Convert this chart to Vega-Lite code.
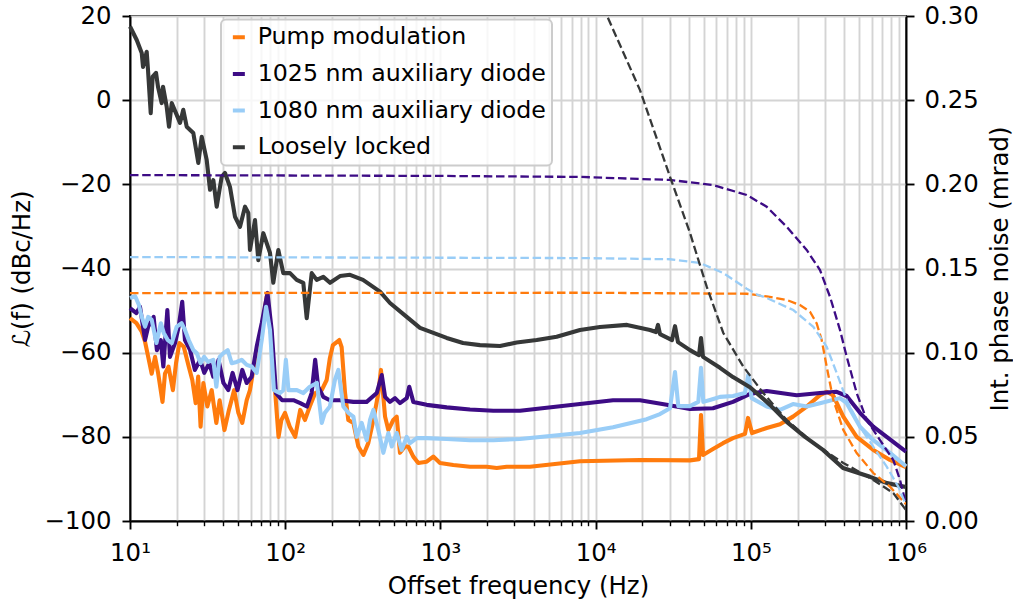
{
 "$schema": "https://vega.github.io/schema/vega-lite/v6.json",
 "width": 776,
 "height": 505,
 "autosize": {"type": "none"},
 "padding": {"left": 130, "top": 16, "right": 107, "bottom": 84},
 "background": "white",
 "datasets": {
  "solid": [
   {"series":"Pump modulation","f":10,"v":-51.8},{"series":"Pump modulation","f":11.0,"v":-53.0},{"series":"Pump modulation","f":11.9,"v":-55.0},{"series":"Pump modulation","f":12.5,"v":-57.4},{"series":"Pump modulation","f":13.1,"v":-61.0},{"series":"Pump modulation","f":13.8,"v":-65.0},{"series":"Pump modulation","f":14.5,"v":-61.0},{"series":"Pump modulation","f":15.2,"v":-65.0},{"series":"Pump modulation","f":16.2,"v":-71.7},{"series":"Pump modulation","f":16.8,"v":-65.0},{"series":"Pump modulation","f":17.7,"v":-63.3},{"series":"Pump modulation","f":18.9,"v":-68.9},{"series":"Pump modulation","f":19.8,"v":-62.5},{"series":"Pump modulation","f":20.8,"v":-57.7},{"series":"Pump modulation","f":22.2,"v":-58.6},{"series":"Pump modulation","f":23.9,"v":-63.3},{"series":"Pump modulation","f":25.2,"v":-66.5},{"series":"Pump modulation","f":26.5,"v":-72.0},{"series":"Pump modulation","f":27.5,"v":-65.7},{"series":"Pump modulation","f":28.5,"v":-77.6},{"series":"Pump modulation","f":29.7,"v":-67.2},{"series":"Pump modulation","f":31.5,"v":-72.8},{"series":"Pump modulation","f":33.6,"v":-68.9},{"series":"Pump modulation","f":36.0,"v":-76.7},{"series":"Pump modulation","f":37.8,"v":-71.3},{"series":"Pump modulation","f":40.6,"v":-78.4},{"series":"Pump modulation","f":43.4,"v":-73.6},{"series":"Pump modulation","f":46.9,"v":-68.9},{"series":"Pump modulation","f":49.9,"v":-74.3},{"series":"Pump modulation","f":52.9,"v":-76.7},{"series":"Pump modulation","f":56.5,"v":-71.3},{"series":"Pump modulation","f":59.3,"v":-68.9},{"series":"Pump modulation","f":62.3,"v":-64.1},{"series":"Pump modulation","f":66.4,"v":-61.0},{"series":"Pump modulation","f":71.3,"v":-53.8},{"series":"Pump modulation","f":76.0,"v":-46.6},{"series":"Pump modulation","f":81.8,"v":-57.0},{"series":"Pump modulation","f":86.0,"v":-68.9},{"series":"Pump modulation","f":90.6,"v":-80.0},{"series":"Pump modulation","f":94.5,"v":-76.0},{"series":"Pump modulation","f":99.7,"v":-74.3},{"series":"Pump modulation","f":107,"v":-77.6},{"series":"Pump modulation","f":116,"v":-80.0},{"series":"Pump modulation","f":125,"v":-73.6},{"series":"Pump modulation","f":134,"v":-76.0},{"series":"Pump modulation","f":144,"v":-72.8},{"series":"Pump modulation","f":156,"v":-69.6},{"series":"Pump modulation","f":172,"v":-68.9},{"series":"Pump modulation","f":185,"v":-66.5},{"series":"Pump modulation","f":194,"v":-61.3},{"series":"Pump modulation","f":203,"v":-58.2},{"series":"Pump modulation","f":223,"v":-57.0},{"series":"Pump modulation","f":231,"v":-58.7},{"series":"Pump modulation","f":243,"v":-69.6},{"series":"Pump modulation","f":255,"v":-76.0},{"series":"Pump modulation","f":275,"v":-76.7},{"series":"Pump modulation","f":296,"v":-82.3},{"series":"Pump modulation","f":319,"v":-84.3},{"series":"Pump modulation","f":343,"v":-81.5},{"series":"Pump modulation","f":370,"v":-76.0},{"series":"Pump modulation","f":398,"v":-69.6},{"series":"Pump modulation","f":414,"v":-64.1},{"series":"Pump modulation","f":440,"v":-75.2},{"series":"Pump modulation","f":462,"v":-78.4},{"series":"Pump modulation","f":497,"v":-76.0},{"series":"Pump modulation","f":523,"v":-75.2},{"series":"Pump modulation","f":549,"v":-83.8},{"series":"Pump modulation","f":591,"v":-82.3},{"series":"Pump modulation","f":621,"v":-82.3},{"series":"Pump modulation","f":669,"v":-84.7},{"series":"Pump modulation","f":720,"v":-86.2},{"series":"Pump modulation","f":816,"v":-85.9},{"series":"Pump modulation","f":900,"v":-84.7},{"series":"Pump modulation","f":994,"v":-86.2},{"series":"Pump modulation","f":1211,"v":-86.7},{"series":"Pump modulation","f":1551,"v":-87.1},{"series":"Pump modulation","f":1988,"v":-87.1},{"series":"Pump modulation","f":2306,"v":-87.4},{"series":"Pump modulation","f":2674,"v":-87.1},{"series":"Pump modulation","f":3779,"v":-87.1},{"series":"Pump modulation","f":7933,"v":-85.8},{"series":"Pump modulation","f":19322,"v":-85.5},{"series":"Pump modulation","f":40572,"v":-85.6},{"series":"Pump modulation","f":46370,"v":-85.3},{"series":"Pump modulation","f":47770,"v":-74.8},{"series":"Pump modulation","f":49204,"v":-84.3},{"series":"Pump modulation","f":57078,"v":-82.9},{"series":"Pump modulation","f":66200,"v":-81.5},{"series":"Pump modulation","f":76790,"v":-80.3},{"series":"Pump modulation","f":91750,"v":-79.3},{"series":"Pump modulation","f":95940,"v":-75.5},{"series":"Pump modulation","f":101800,"v":-79.1},{"series":"Pump modulation","f":126590,"v":-77.9},{"series":"Pump modulation","f":154210,"v":-77.0},{"series":"Pump modulation","f":187010,"v":-75.2},{"series":"Pump modulation","f":229170,"v":-72.8},{"series":"Pump modulation","f":279160,"v":-70.1},{"series":"Pump modulation","f":308350,"v":-69.3},{"series":"Pump modulation","f":338550,"v":-70.1},{"series":"Pump modulation","f":394490,"v":-75.2},{"series":"Pump modulation","f":481210,"v":-80.0},{"series":"Pump modulation","f":615620,"v":-83.1},{"series":"Pump modulation","f":788630,"v":-85.5},{"series":"Pump modulation","f":1000000,"v":-87.2},
   {"series":"1025 nm auxiliary diode","f":10,"v":-49.4},{"series":"1025 nm auxiliary diode","f":11.0,"v":-50.6},{"series":"1025 nm auxiliary diode","f":11.6,"v":-49.1},{"series":"1025 nm auxiliary diode","f":12.5,"v":-57.0},{"series":"1025 nm auxiliary diode","f":13.1,"v":-53.8},{"series":"1025 nm auxiliary diode","f":14.2,"v":-51.5},{"series":"1025 nm auxiliary diode","f":14.9,"v":-59.4},{"series":"1025 nm auxiliary diode","f":15.8,"v":-57.0},{"series":"1025 nm auxiliary diode","f":16.4,"v":-63.3},{"series":"1025 nm auxiliary diode","f":17.4,"v":-49.9},{"series":"1025 nm auxiliary diode","f":18.1,"v":-61.0},{"series":"1025 nm auxiliary diode","f":19.5,"v":-57.7},{"series":"1025 nm auxiliary diode","f":20.6,"v":-53.8},{"series":"1025 nm auxiliary diode","f":21.7,"v":-47.9},{"series":"1025 nm auxiliary diode","f":22.6,"v":-57.0},{"series":"1025 nm auxiliary diode","f":24.4,"v":-59.4},{"series":"1025 nm auxiliary diode","f":26.2,"v":-64.1},{"series":"1025 nm auxiliary diode","f":28.3,"v":-61.7},{"series":"1025 nm auxiliary diode","f":30.1,"v":-64.8},{"series":"1025 nm auxiliary diode","f":32.4,"v":-62.5},{"series":"1025 nm auxiliary diode","f":34.4,"v":-65.7},{"series":"1025 nm auxiliary diode","f":37.2,"v":-61.7},{"series":"1025 nm auxiliary diode","f":40.0,"v":-67.2},{"series":"1025 nm auxiliary diode","f":43.0,"v":-68.9},{"series":"1025 nm auxiliary diode","f":45.8,"v":-64.8},{"series":"1025 nm auxiliary diode","f":49.3,"v":-68.9},{"series":"1025 nm auxiliary diode","f":52.9,"v":-64.1},{"series":"1025 nm auxiliary diode","f":56.5,"v":-67.2},{"series":"1025 nm auxiliary diode","f":60.8,"v":-65.7},{"series":"1025 nm auxiliary diode","f":65.5,"v":-58.6},{"series":"1025 nm auxiliary diode","f":70.6,"v":-53.0},{"series":"1025 nm auxiliary diode","f":76.9,"v":-45.8},{"series":"1025 nm auxiliary diode","f":81.8,"v":-54.6},{"series":"1025 nm auxiliary diode","f":87.2,"v":-69.6},{"series":"1025 nm auxiliary diode","f":95.5,"v":-71.3},{"series":"1025 nm auxiliary diode","f":102,"v":-71.3},{"series":"1025 nm auxiliary diode","f":113,"v":-71.3},{"series":"1025 nm auxiliary diode","f":125,"v":-72.0},{"series":"1025 nm auxiliary diode","f":138,"v":-72.8},{"series":"1025 nm auxiliary diode","f":148,"v":-69.6},{"series":"1025 nm auxiliary diode","f":156,"v":-61.7},{"series":"1025 nm auxiliary diode","f":163,"v":-68.1},{"series":"1025 nm auxiliary diode","f":176,"v":-70.5},{"series":"1025 nm auxiliary diode","f":194,"v":-71.3},{"series":"1025 nm auxiliary diode","f":225,"v":-71.3},{"series":"1025 nm auxiliary diode","f":275,"v":-71.7},{"series":"1025 nm auxiliary diode","f":335,"v":-71.7},{"series":"1025 nm auxiliary diode","f":389,"v":-69.6},{"series":"1025 nm auxiliary diode","f":419,"v":-65.3},{"series":"1025 nm auxiliary diode","f":440,"v":-70.5},{"series":"1025 nm auxiliary diode","f":473,"v":-71.7},{"series":"1025 nm auxiliary diode","f":510,"v":-70.8},{"series":"1025 nm auxiliary diode","f":549,"v":-72.0},{"series":"1025 nm auxiliary diode","f":607,"v":-70.8},{"series":"1025 nm auxiliary diode","f":630,"v":-68.1},{"series":"1025 nm auxiliary diode","f":669,"v":-71.7},{"series":"1025 nm auxiliary diode","f":816,"v":-72.4},{"series":"1025 nm auxiliary diode","f":1098,"v":-73.0},{"series":"1025 nm auxiliary diode","f":1551,"v":-73.5},{"series":"1025 nm auxiliary diode","f":2192,"v":-73.8},{"series":"1025 nm auxiliary diode","f":3257,"v":-73.8},{"series":"1025 nm auxiliary diode","f":7933,"v":-72.2},{"series":"1025 nm auxiliary diode","f":12945,"v":-71.3},{"series":"1025 nm auxiliary diode","f":19322,"v":-71.3},{"series":"1025 nm auxiliary diode","f":28717,"v":-72.4},{"series":"1025 nm auxiliary diode","f":40572,"v":-73.4},{"series":"1025 nm auxiliary diode","f":57078,"v":-73.2},{"series":"1025 nm auxiliary diode","f":76790,"v":-71.7},{"series":"1025 nm auxiliary diode","f":98815,"v":-69.8},{"series":"1025 nm auxiliary diode","f":126590,"v":-69.1},{"series":"1025 nm auxiliary diode","f":197570,"v":-70.1},{"series":"1025 nm auxiliary diode","f":279160,"v":-69.6},{"series":"1025 nm auxiliary diode","f":357670,"v":-69.3},{"series":"1025 nm auxiliary diode","f":414860,"v":-70.3},{"series":"1025 nm auxiliary diode","f":505340,"v":-74.3},{"series":"1025 nm auxiliary diode","f":615620,"v":-77.6},{"series":"1025 nm auxiliary diode","f":750990,"v":-80.0},{"series":"1025 nm auxiliary diode","f":1000000,"v":-83.5},
   {"series":"1080 nm auxiliary diode","f":10,"v":-47.0},{"series":"1080 nm auxiliary diode","f":10.8,"v":-46.6},{"series":"1080 nm auxiliary diode","f":11.4,"v":-48.6},{"series":"1080 nm auxiliary diode","f":11.9,"v":-51.5},{"series":"1080 nm auxiliary diode","f":12.5,"v":-53.8},{"series":"1080 nm auxiliary diode","f":13.1,"v":-51.5},{"series":"1080 nm auxiliary diode","f":13.8,"v":-52.2},{"series":"1080 nm auxiliary diode","f":14.8,"v":-57.7},{"series":"1080 nm auxiliary diode","f":15.8,"v":-53.0},{"series":"1080 nm auxiliary diode","f":16.5,"v":-55.3},{"series":"1080 nm auxiliary diode","f":17.5,"v":-57.0},{"series":"1080 nm auxiliary diode","f":18.6,"v":-57.7},{"series":"1080 nm auxiliary diode","f":20.0,"v":-53.8},{"series":"1080 nm auxiliary diode","f":21.5,"v":-53.0},{"series":"1080 nm auxiliary diode","f":22.6,"v":-54.6},{"series":"1080 nm auxiliary diode","f":23.9,"v":-57.0},{"series":"1080 nm auxiliary diode","f":25.6,"v":-59.4},{"series":"1080 nm auxiliary diode","f":26.9,"v":-60.1},{"series":"1080 nm auxiliary diode","f":28.5,"v":-62.5},{"series":"1080 nm auxiliary diode","f":30.0,"v":-61.0},{"series":"1080 nm auxiliary diode","f":31.9,"v":-62.2},{"series":"1080 nm auxiliary diode","f":34.4,"v":-61.7},{"series":"1080 nm auxiliary diode","f":36.0,"v":-68.1},{"series":"1080 nm auxiliary diode","f":37.8,"v":-61.0},{"series":"1080 nm auxiliary diode","f":40.0,"v":-60.1},{"series":"1080 nm auxiliary diode","f":42.6,"v":-59.4},{"series":"1080 nm auxiliary diode","f":45.2,"v":-62.5},{"series":"1080 nm auxiliary diode","f":48.7,"v":-62.2},{"series":"1080 nm auxiliary diode","f":52.4,"v":-61.7},{"series":"1080 nm auxiliary diode","f":56.5,"v":-62.9},{"series":"1080 nm auxiliary diode","f":60.8,"v":-63.3},{"series":"1080 nm auxiliary diode","f":65.5,"v":-64.8},{"series":"1080 nm auxiliary diode","f":70.6,"v":-57.0},{"series":"1080 nm auxiliary diode","f":75.3,"v":-49.1},{"series":"1080 nm auxiliary diode","f":79.8,"v":-54.6},{"series":"1080 nm auxiliary diode","f":84.6,"v":-68.9},{"series":"1080 nm auxiliary diode","f":92.6,"v":-69.6},{"series":"1080 nm auxiliary diode","f":97.2,"v":-68.9},{"series":"1080 nm auxiliary diode","f":101,"v":-61.7},{"series":"1080 nm auxiliary diode","f":105,"v":-68.9},{"series":"1080 nm auxiliary diode","f":119,"v":-68.9},{"series":"1080 nm auxiliary diode","f":131,"v":-69.6},{"series":"1080 nm auxiliary diode","f":144,"v":-68.1},{"series":"1080 nm auxiliary diode","f":160,"v":-67.2},{"series":"1080 nm auxiliary diode","f":172,"v":-76.7},{"series":"1080 nm auxiliary diode","f":180,"v":-74.3},{"series":"1080 nm auxiliary diode","f":194,"v":-72.8},{"series":"1080 nm auxiliary diode","f":209,"v":-66.5},{"series":"1080 nm auxiliary diode","f":220,"v":-64.1},{"series":"1080 nm auxiliary diode","f":237,"v":-72.8},{"series":"1080 nm auxiliary diode","f":255,"v":-74.3},{"series":"1080 nm auxiliary diode","f":275,"v":-75.2},{"series":"1080 nm auxiliary diode","f":289,"v":-80.0},{"series":"1080 nm auxiliary diode","f":311,"v":-76.7},{"series":"1080 nm auxiliary diode","f":335,"v":-80.8},{"series":"1080 nm auxiliary diode","f":352,"v":-76.0},{"series":"1080 nm auxiliary diode","f":370,"v":-73.6},{"series":"1080 nm auxiliary diode","f":398,"v":-78.4},{"series":"1080 nm auxiliary diode","f":429,"v":-83.8},{"series":"1080 nm auxiliary diode","f":462,"v":-79.1},{"series":"1080 nm auxiliary diode","f":486,"v":-82.3},{"series":"1080 nm auxiliary diode","f":523,"v":-79.1},{"series":"1080 nm auxiliary diode","f":563,"v":-83.1},{"series":"1080 nm auxiliary diode","f":607,"v":-80.0},{"series":"1080 nm auxiliary diode","f":637,"v":-81.5},{"series":"1080 nm auxiliary diode","f":704,"v":-80.3},{"series":"1080 nm auxiliary diode","f":816,"v":-80.3},{"series":"1080 nm auxiliary diode","f":1098,"v":-80.5},{"series":"1080 nm auxiliary diode","f":1551,"v":-80.8},{"series":"1080 nm auxiliary diode","f":2192,"v":-80.8},{"series":"1080 nm auxiliary diode","f":3257,"v":-80.5},{"series":"1080 nm auxiliary diode","f":7933,"v":-79.1},{"series":"1080 nm auxiliary diode","f":12945,"v":-77.7},{"series":"1080 nm auxiliary diode","f":21345,"v":-75.8},{"series":"1080 nm auxiliary diode","f":25998,"v":-74.6},{"series":"1080 nm auxiliary diode","f":30156,"v":-73.2},{"series":"1080 nm auxiliary diode","f":32478,"v":-64.6},{"series":"1080 nm auxiliary diode","f":34110,"v":-72.7},{"series":"1080 nm auxiliary diode","f":40572,"v":-72.7},{"series":"1080 nm auxiliary diode","f":45893,"v":-71.7},{"series":"1080 nm auxiliary diode","f":47770,"v":-63.6},{"series":"1080 nm auxiliary diode","f":49427,"v":-71.7},{"series":"1080 nm auxiliary diode","f":57331,"v":-71.0},{"series":"1080 nm auxiliary diode","f":63317,"v":-70.5},{"series":"1080 nm auxiliary diode","f":76790,"v":-70.3},{"series":"1080 nm auxiliary diode","f":91750,"v":-69.6},{"series":"1080 nm auxiliary diode","f":96362,"v":-65.3},{"series":"1080 nm auxiliary diode","f":101340,"v":-70.8},{"series":"1080 nm auxiliary diode","f":126590,"v":-72.8},{"series":"1080 nm auxiliary diode","f":154210,"v":-73.6},{"series":"1080 nm auxiliary diode","f":187010,"v":-72.2},{"series":"1080 nm auxiliary diode","f":229170,"v":-72.8},{"series":"1080 nm auxiliary diode","f":279160,"v":-72.0},{"series":"1080 nm auxiliary diode","f":375610,"v":-70.8},{"series":"1080 nm auxiliary diode","f":414860,"v":-72.0},{"series":"1080 nm auxiliary diode","f":505340,"v":-77.6},{"series":"1080 nm auxiliary diode","f":615620,"v":-80.8},{"series":"1080 nm auxiliary diode","f":788630,"v":-83.8},{"series":"1080 nm auxiliary diode","f":1000000,"v":-87.0},
   {"series":"Loosely locked","f":10,"v":17.5},{"series":"Loosely locked","f":11.05,"v":14.3},{"series":"Loosely locked","f":11.9,"v":11.2},{"series":"Loosely locked","f":12.13,"v":7.9},{"series":"Loosely locked","f":12.81,"v":11.5},{"series":"Loosely locked","f":13.06,"v":7.2},{"series":"Loosely locked","f":13.6,"v":-3.1},{"series":"Loosely locked","f":14.0,"v":5.6},{"series":"Loosely locked","f":14.71,"v":6.5},{"series":"Loosely locked","f":15.15,"v":3.2},{"series":"Loosely locked","f":16.0,"v":-0.7},{"series":"Loosely locked","f":16.32,"v":3.2},{"series":"Loosely locked","f":17.24,"v":-1.6},{"series":"Loosely locked","f":17.84,"v":-6.3},{"series":"Loosely locked","f":18.57,"v":-0.7},{"series":"Loosely locked","f":20.0,"v":-3.5},{"series":"Loosely locked","f":21.0,"v":-5.4},{"series":"Loosely locked","f":22.05,"v":-2.3},{"series":"Loosely locked","f":23.19,"v":-6.3},{"series":"Loosely locked","f":25.58,"v":-7.8},{"series":"Loosely locked","f":27.55,"v":-14.9},{"series":"Loosely locked","f":28.97,"v":-8.7},{"series":"Loosely locked","f":31.2,"v":-14.2},{"series":"Loosely locked","f":32.78,"v":-21.3},{"series":"Loosely locked","f":34.42,"v":-19.0},{"series":"Loosely locked","f":36.2,"v":-25.3},{"series":"Loosely locked","f":38.98,"v":-18.2},{"series":"Loosely locked","f":40.94,"v":-17.3},{"series":"Loosely locked","f":44.07,"v":-20.6},{"series":"Loosely locked","f":47.49,"v":-27.7},{"series":"Loosely locked","f":51.15,"v":-30.1},{"series":"Loosely locked","f":55.08,"v":-25.3},{"series":"Loosely locked","f":57.84,"v":-26.8},{"series":"Loosely locked","f":59.3,"v":-35.6},{"series":"Loosely locked","f":63.89,"v":-28.5},{"series":"Loosely locked","f":67.1,"v":-38.0},{"series":"Loosely locked","f":72.26,"v":-31.6},{"series":"Loosely locked","f":79.8,"v":-36.3},{"series":"Loosely locked","f":83.8,"v":-43.4},{"series":"Loosely locked","f":90.28,"v":-35.6},{"series":"Loosely locked","f":97.2,"v":-41.1},{"series":"Loosely locked","f":107.4,"v":-41.1},{"series":"Loosely locked","f":118.6,"v":-42.7},{"series":"Loosely locked","f":130.8,"v":-43.4},{"series":"Loosely locked","f":137.6,"v":-51.8},{"series":"Loosely locked","f":148.2,"v":-41.1},{"series":"Loosely locked","f":159.6,"v":-42.7},{"series":"Loosely locked","f":176,"v":-42.0},{"series":"Loosely locked","f":194.5,"v":-43.4},{"series":"Loosely locked","f":225.5,"v":-41.8},{"series":"Loosely locked","f":261.6,"v":-41.5},{"series":"Loosely locked","f":317.2,"v":-42.7},{"series":"Loosely locked","f":408.2,"v":-45.5},{"series":"Loosely locked","f":473.3,"v":-48.2},{"series":"Loosely locked","f":606.6,"v":-51.5},{"series":"Loosely locked","f":738.7,"v":-54.1},{"series":"Loosely locked","f":857,"v":-55.0},{"series":"Loosely locked","f":1098,"v":-56.5},{"series":"Loosely locked","f":1399,"v":-57.7},{"series":"Loosely locked","f":1799,"v":-58.2},{"series":"Loosely locked","f":2421,"v":-58.4},{"series":"Loosely locked","f":3101,"v":-57.6},{"series":"Loosely locked","f":4173,"v":-57.0},{"series":"Loosely locked","f":5615,"v":-56.2},{"series":"Loosely locked","f":7934,"v":-54.6},{"series":"Loosely locked","f":10674,"v":-53.9},{"series":"Loosely locked","f":15930,"v":-53.4},{"series":"Loosely locked","f":22420,"v":-54.6},{"series":"Loosely locked","f":24510,"v":-55.1},{"series":"Loosely locked","f":25240,"v":-53.4},{"series":"Loosely locked","f":26000,"v":-55.6},{"series":"Loosely locked","f":31070,"v":-57.0},{"series":"Loosely locked","f":32480,"v":-53.7},{"series":"Loosely locked","f":33950,"v":-57.5},{"series":"Loosely locked","f":40570,"v":-59.4},{"series":"Loosely locked","f":46370,"v":-60.6},{"series":"Loosely locked","f":47770,"v":-56.5},{"series":"Loosely locked","f":49210,"v":-61.0},{"series":"Loosely locked","f":63330,"v":-63.6},{"series":"Loosely locked","f":76780,"v":-65.8},{"series":"Loosely locked","f":98820,"v":-68.2},{"series":"Loosely locked","f":132970,"v":-72.4},{"series":"Loosely locked","f":171130,"v":-76.5},{"series":"Loosely locked","f":223500,"v":-80.0},{"series":"Loosely locked","f":291900,"v":-83.1},{"series":"Loosely locked","f":392700,"v":-87.4},{"series":"Loosely locked","f":586200,"v":-89.5},{"series":"Loosely locked","f":754400,"v":-91.0},{"series":"Loosely locked","f":1000000,"v":-91.9}
  ],
  "dashed": [
   {"series":"Pump modulation","f":10,"mrad":0.1354},{"series":"Pump modulation","f":7933,"mrad":0.1356},{"series":"Pump modulation","f":94104,"mrad":0.1350},{"series":"Pump modulation","f":126590,"mrad":0.1334},{"series":"Pump modulation","f":170330,"mrad":0.1313},{"series":"Pump modulation","f":207490,"mrad":0.1283},{"series":"Pump modulation","f":240670,"mrad":0.1243},{"series":"Pump modulation","f":265830,"mrad":0.1174},{"series":"Pump modulation","f":286300,"mrad":0.1075},{"series":"Pump modulation","f":308350,"mrad":0.0917},{"series":"Pump modulation","f":340090,"mrad":0.0719},{"series":"Pump modulation","f":394490,"mrad":0.0541},{"series":"Pump modulation","f":481210,"mrad":0.0404},{"series":"Pump modulation","f":615620,"mrad":0.0285},{"series":"Pump modulation","f":788630,"mrad":0.0204},{"series":"Pump modulation","f":1000000,"mrad":0.0100},
   {"series":"1025 nm auxiliary diode","f":10,"mrad":0.2055},{"series":"1025 nm auxiliary diode","f":994,"mrad":0.2050},{"series":"1025 nm auxiliary diode","f":7933,"mrad":0.2044},{"series":"1025 nm auxiliary diode","f":30156,"mrad":0.2026},{"series":"1025 nm auxiliary diode","f":57078,"mrad":0.1996},{"series":"1025 nm auxiliary diode","f":94104,"mrad":0.1937},{"series":"1025 nm auxiliary diode","f":126590,"mrad":0.1867},{"series":"1025 nm auxiliary diode","f":170330,"mrad":0.1748},{"series":"1025 nm auxiliary diode","f":229170,"mrad":0.1610},{"series":"1025 nm auxiliary diode","f":279160,"mrad":0.1491},{"series":"1025 nm auxiliary diode","f":323820,"mrad":0.1332},{"series":"1025 nm auxiliary diode","f":375610,"mrad":0.1135},{"series":"1025 nm auxiliary diode","f":414860,"mrad":0.0976},{"series":"1025 nm auxiliary diode","f":481210,"mrad":0.0760},{"series":"1025 nm auxiliary diode","f":558160,"mrad":0.0600},{"series":"1025 nm auxiliary diode","f":679910,"mrad":0.0481},{"series":"1025 nm auxiliary diode","f":828270,"mrad":0.0362},{"series":"1025 nm auxiliary diode","f":914780,"mrad":0.0244},{"series":"1025 nm auxiliary diode","f":1000000,"mrad":0.0100},
   {"series":"1080 nm auxiliary diode","f":10,"mrad":0.1568},{"series":"1080 nm auxiliary diode","f":994,"mrad":0.1564},{"series":"1080 nm auxiliary diode","f":7933,"mrad":0.1562},{"series":"1080 nm auxiliary diode","f":30156,"mrad":0.1555},{"series":"1080 nm auxiliary diode","f":47061,"mrad":0.1533},{"series":"1080 nm auxiliary diode","f":66500,"mrad":0.1473},{"series":"1080 nm auxiliary diode","f":94104,"mrad":0.1380},{"series":"1080 nm auxiliary diode","f":110000,"mrad":0.1345},{"series":"1080 nm auxiliary diode","f":126590,"mrad":0.1325},{"series":"1080 nm auxiliary diode","f":187860,"mrad":0.1253},{"series":"1080 nm auxiliary diode","f":252770,"mrad":0.1154},{"series":"1080 nm auxiliary diode","f":308350,"mrad":0.1035},{"series":"1080 nm auxiliary diode","f":357670,"mrad":0.0879},{"series":"1080 nm auxiliary diode","f":414860,"mrad":0.0719},{"series":"1080 nm auxiliary diode","f":505340,"mrad":0.0560},{"series":"1080 nm auxiliary diode","f":615620,"mrad":0.0441},{"series":"1080 nm auxiliary diode","f":750990,"mrad":0.0323},{"series":"1080 nm auxiliary diode","f":892060,"mrad":0.0204},{"series":"1080 nm auxiliary diode","f":1000000,"mrad":0.0095},
   {"series":"Loosely locked","f":10363,"mrad":0.3122},{"series":"Loosely locked","f":12020,"mrad":0.2988},{"series":"Loosely locked","f":19322,"mrad":0.2560},{"series":"Loosely locked","f":30156,"mrad":0.2045},{"series":"Loosely locked","f":40572,"mrad":0.1711},{"series":"Loosely locked","f":51985,"mrad":0.1392},{"series":"Loosely locked","f":66500,"mrad":0.1117},{"series":"Loosely locked","f":89473,"mrad":0.0917},{"series":"Loosely locked","f":120370,"mrad":0.0760},{"series":"Loosely locked","f":170330,"mrad":0.0600},{"series":"Loosely locked","f":252770,"mrad":0.0463},{"series":"Loosely locked","f":394490,"mrad":0.0345},{"series":"Loosely locked","f":615620,"mrad":0.0244},{"series":"Loosely locked","f":828270,"mrad":0.0166},{"series":"Loosely locked","f":1000000,"mrad":0.0065}
  ]
 },
 "encoding": {
  "x": {
   "field": "f", "type": "quantitative",
   "scale": {"type": "log", "domain": [10, 1000000], "nice": false},
   "axis": {
    "title": "Offset frequency (Hz)",
    "values": [10,20,30,40,50,60,70,80,90,100,200,300,400,500,600,700,800,900,1000,2000,3000,4000,5000,6000,7000,8000,9000,10000,20000,30000,40000,50000,60000,70000,80000,90000,100000,200000,300000,400000,500000,600000,700000,800000,900000,1000000],
    "labelExpr": "abs(log(datum.value)/LN10 - round(log(datum.value)/LN10)) < 0.001 ? '10' + ['⁰','¹','²','³','⁴','⁵','⁶'][round(log(datum.value)/LN10)] : ''",
    "labelFlush": false,
    "labelOverlap": false,
    "grid": true,
    "tickSize": {"condition": {"test": "abs(log(datum.value)/LN10 - round(log(datum.value)/LN10)) < 0.001", "value": 8}, "value": 4.7},
    "tickWidth": {"condition": {"test": "abs(log(datum.value)/LN10 - round(log(datum.value)/LN10)) < 0.001", "value": 1.9}, "value": 1.4},
    "labelPadding": 12,
    "titlePadding": 10
   }
  }
 },
 "layer": [
  {
   "data": {"name": "solid"},
   "mark": {"type": "line", "strokeWidth": 4.1, "strokeJoin": "round"},
   "encoding": {
    "y": {
     "field": "v", "type": "quantitative",
     "scale": {"domain": [-100, 20], "nice": false},
     "axis": {"orient": "left", "title": "ℒ(f) (dBc/Hz)", "values": [-100, -80, -60, -40, -20, 0, 20], "labelExpr": "replace(format(datum.value, 'd'), '-', '−')", "grid": true, "tickSize": 8, "labelPadding": 11, "titlePadding": 10}
    },
    "color": {
     "field": "series", "type": "nominal",
     "scale": {"domain": ["Pump modulation", "1025 nm auxiliary diode", "1080 nm auxiliary diode", "Loosely locked"], "range": ["#ff7b0d", "#3d0c85", "#99cdf7", "#363838"]},
     "legend": {"title": null, "orient": "none", "legendX": 91, "legendY": 3.5, "symbolType": "stroke", "symbolSize": 144, "symbolStrokeWidth": 4, "symbolDash": [1, 0], "labelFontSize": 23.7, "labelFont": "DejaVu Sans", "labelColor": "#000000", "padding": 6, "rowPadding": 11.6, "labelOffset": 7, "fillColor": "rgba(255,255,255,0.8)", "strokeColor": "#cccccc", "cornerRadius": 5, "labelLimit": 600, "encode": {"symbols": {"update": {"strokeDash": {"value": [1, 0]}, "strokeWidth": {"value": 4}}}}}
    }
   }
  },
  {
   "data": {"name": "dashed"},
   "mark": {"type": "line", "strokeWidth": 2.3, "strokeDash": [8.5, 3.7], "clip": true},
   "encoding": {
    "y": {
     "field": "mrad", "type": "quantitative",
     "scale": {"domain": [0, 0.3], "nice": false},
     "axis": {"orient": "right", "title": "Int. phase noise (mrad)", "values": [0, 0.05, 0.1, 0.15, 0.2, 0.25, 0.3], "format": ".2f", "grid": false, "tickSize": 8, "labelPadding": 10, "titlePadding": 10, "titleAngle": 270, "titleBaseline": "top"}
    },
    "color": {"field": "series", "type": "nominal"}
   }
  }
 ],
 "resolve": {"scale": {"y": "independent"}},
 "config": {
  "font": "DejaVu Sans",
  "view": {"stroke": "#000000", "strokeWidth": 1.9},
  "axis": {"labelFont": "DejaVu Sans", "titleFont": "DejaVu Sans", "labelFontSize": 24.4, "titleFontSize": 24.4, "titleFontWeight": "normal", "labelColor": "#000000", "titleColor": "#000000", "domainColor": "#000000", "domainWidth": 1.9, "tickColor": "#000000", "tickWidth": 1.9, "gridColor": "#d4d4d4", "gridWidth": 1.9},
  "legend": {"strokeWidth": 2}
 }
}
